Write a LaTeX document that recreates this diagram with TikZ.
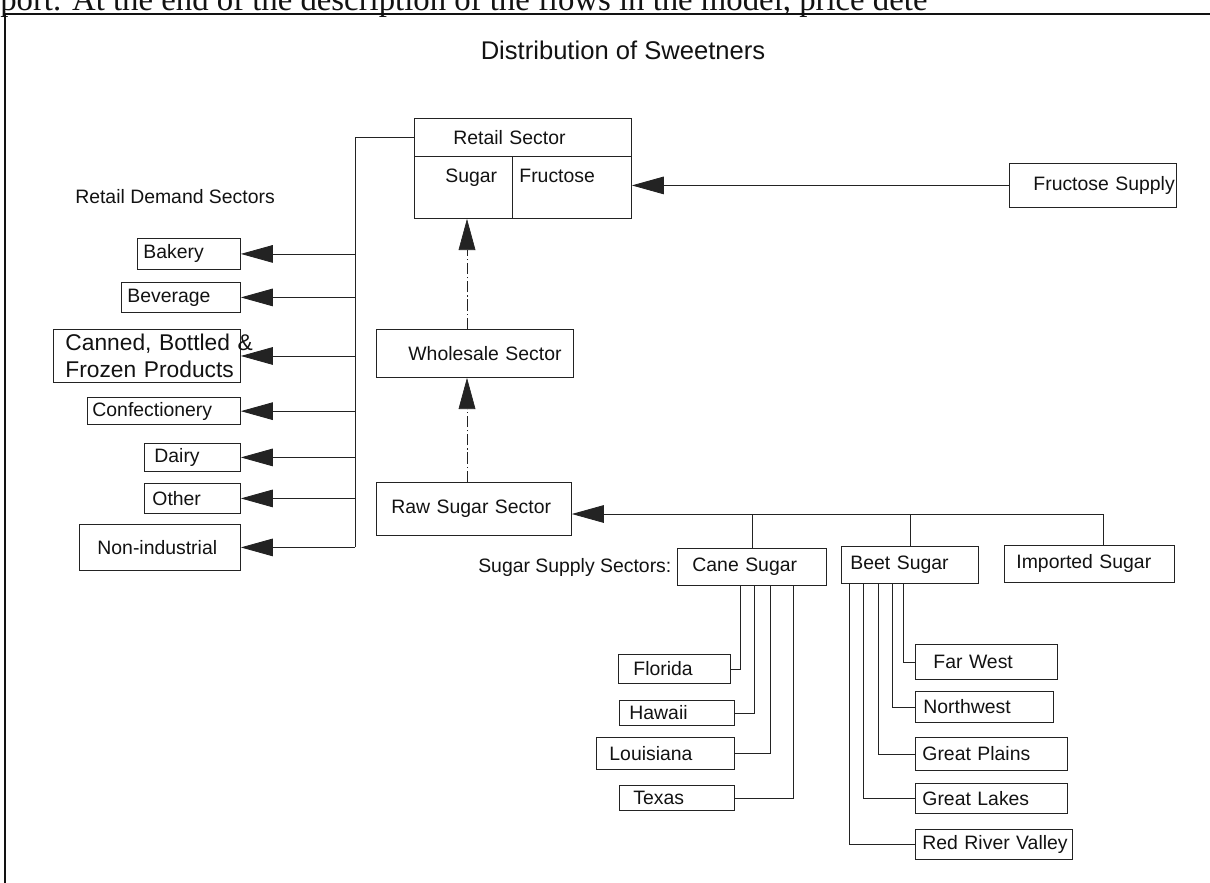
\documentclass[tikz,border=0pt]{standalone}
\usepackage{fontspec}
\setmainfont{Liberation Sans}
\newfontfamily\scanfont{Liberation Serif}
\usepackage{tikz}
\usetikzlibrary{calc,arrows.meta,positioning}
\definecolor{swInk}{RGB}{18,18,18}
\definecolor{swLine}{RGB}{35,35,35}
\newdimen\pxl
\pxl=0.025cm
\tikzset{
  sector/.style n args={3}{draw=swLine, line width=0.6pt, anchor=north west, inner xsep=0pt,
    text width={#1*\pxl}, minimum height={#2*\pxl}, align=left,
    execute at begin node={\leftskip=#3\pxl\relax}},
  feed/.style={draw=swLine, line width=0.6pt},
  flow/.style={feed, -{Triangle[length=0.8cm,width=0.44cm]}},
  rise/.style={draw=swLine, line width=0.5pt, dash pattern=on 8pt off 2pt on 1pt off 2pt,
    -{Triangle[length=0.78cm,width=0.42cm]}}
}

\begin{document}
\begin{tikzpicture}[x=0.025cm,y=-0.025cm,font=\fontsize{13.8}{17}\selectfont,text=swInk]
\useasboundingbox (0,0) rectangle (1210,882);
\node[anchor=base west, inner sep=0pt, font=\scanfont\fontsize{23.3}{27}\selectfont] (scanline) at (0,10)
  {port. At the end of the description of the flows in the model, price dete};
\draw[swInk, line width=1.3pt] (5,900) -- (5,14) -- (1220,14);
\node[font=\fontsize{18.2}{22}\selectfont] (title) at (623,50) {Distribution of Sweetners};

\node[sector={217}{38}{39}] (retailtop) at (414,118) {Retail Sector};
\node[sector={98}{62}{31}, text height=0.35cm, text depth=0.6cm] (sugar) at (414,156) {Sugar};
\node[sector={119}{62}{7}, text height=0.35cm, text depth=0.6cm] (fructose) at (512,156) {Fructose};
\node[sector={167}{44}{24}] (fsupply) at (1009,163) {Fructose Supply};
\node[sector={197}{48}{32}] (wholesale) at (376,329) {Wholesale Sector};
\node[sector={195}{53}{15}] (rawsugar) at (376,482) {Raw Sugar Sector};

\node[anchor=west, inner sep=0pt] (demandlbl) at (75,197) {Retail Demand Sectors};
\node[sector={103}{31}{6}] (bakery) at (137,238) {Bakery};
\node[sector={119}{30}{6}] (beverage) at (121,282) {Beverage};
\node[sector={187}{47}{12}, font=\fontsize{16.2}{19.2}\selectfont] (canned) at (53,329)
  {\mbox{Canned, Bottled \&}\\\mbox{Frozen Products}};
\node[sector={153}{26}{5}] (confect) at (87,397) {Confectionery};
\node[sector={96}{28}{10}] (dairy) at (144,443) {Dairy};
\node[sector={96}{30}{8}] (other) at (144,483) {Other};
\node[sector={161}{46}{18}] (nonind) at (79,524) {Non-industrial};

\node[anchor=west, inner sep=0pt] (supplylbl) at (478,567) {Sugar Supply Sectors:};
\node[sector={149}{37}{15}] (cane) at (677,548) {Cane Sugar};
\node[sector={137}{37}{9}] (beet) at (841,546) {Beet Sugar};
\node[sector={170}{37}{12}] (imported) at (1004,545) {Imported Sugar};

\node[sector={112}{29}{15}] (florida) at (618,654) {Florida};
\node[sector={115}{25}{10}] (hawaii) at (619,700) {Hawaii};
\node[sector={138}{32}{13}] (louisiana) at (596,737) {Louisiana};
\node[sector={115}{25}{14}] (texas) at (619,785) {Texas};

\node[sector={142}{35}{18}] (farwest) at (915,644) {Far West};
\node[sector={138}{31}{8}] (northwest) at (915,691) {Northwest};
\node[sector={152}{33}{7}] (plains) at (915,737) {Great Plains};
\node[sector={152}{30}{7}] (lakes) at (915,783) {Great Lakes};
\node[sector={157}{30}{7}] (redriver) at (915,829) {Red River Valley};

\coordinate (busTop) at (355,0 |- retailtop.west);
\draw[feed] (retailtop.west) -- (busTop) -- (busTop |- nonind.east);
\foreach \dest in {bakery,beverage,canned,confect,dairy,other,nonind}
  \draw[flow] (busTop |- \dest.east) -- (\dest.east);
\draw[flow] (fsupply.west) -- (fsupply.west -| fructose.east);
\draw[rise] (467,0 |- wholesale.north) -- (467,0 |- sugar.south);
\draw[rise] (467,0 |- rawsugar.north) -- (467,0 |- wholesale.south);

\coordinate (impTop) at (1103,514);
\draw[flow] (impTop) -- (impTop -| rawsugar.east);
\draw[feed] (impTop) -- (impTop |- imported.north);
\draw[feed] (cane.north) -- (cane.north |- impTop);
\draw[feed] (beet.north) -- (beet.north |- impTop);
\foreach \dest/\xx in {florida/740,hawaii/754,louisiana/770,texas/793}
  \draw[feed] (\xx,0 |- cane.south) |- (\dest.east);
\foreach \dest/\xx in {farwest/903,northwest/892,plains/878,lakes/863,redriver/849}
  \draw[feed] (\xx,0 |- beet.south) |- (\dest.west);
\end{tikzpicture}
\end{document}
